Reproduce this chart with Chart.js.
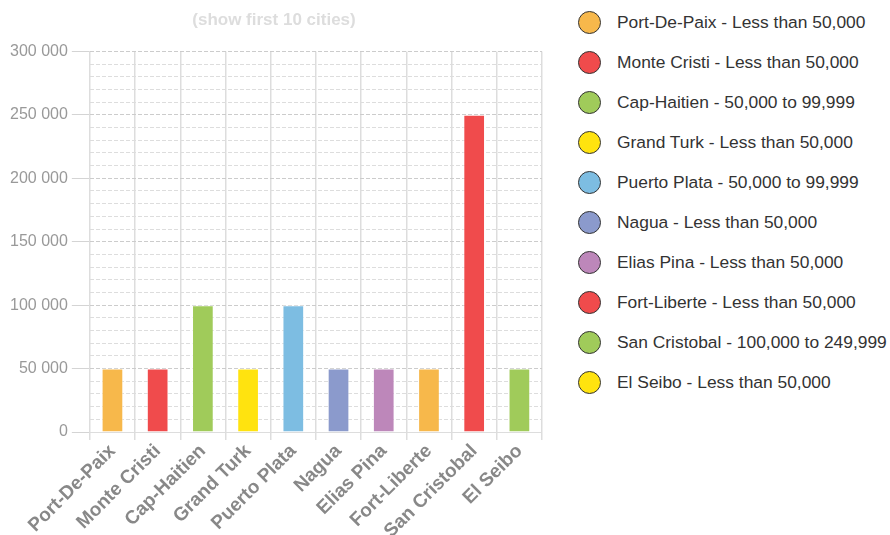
<!DOCTYPE html>
<html>
<head>
<meta charset="utf-8">
<script src="https://cdn.jsdelivr.net/npm/chart.js@4"></script>
<style>
    body { margin: 0; background: #fff; font-family: "Liberation Sans", Arial, sans-serif; }
    #wrap { position: relative; width: 890px; height: 535px; }
    #box { position: absolute; left: 0; top: 0; width: 548px; height: 535px; }
    #legend { position: absolute; left: 578px; top: 11px; margin: 0; padding: 0; list-style: none; }
    #legend li { height: 40px; display: flex; align-items: flex-start; font-size: 17.4px; color: #333; white-space: nowrap; }
    #legend span.dot { display: inline-block; width: 23px; height: 23px; border-radius: 50%; border: 1px solid #333; box-sizing: border-box; margin-right: 16px; }
    #legend span.txt { line-height: 23px; }
</style>
</head>
<body>
<div id="wrap">
    <div id="box"><canvas id="cities"></canvas></div>
    <ul id="legend"></ul>
</div>
<script>
var cities = ["Port-De-Paix", "Monte Cristi", "Cap-Haitien", "Grand Turk", "Puerto Plata",
    "Nagua", "Elias Pina", "Fort-Liberte", "San Cristobal", "El Seibo"];
var ranges = ["Less than 50,000", "Less than 50,000", "50,000 to 99,999", "Less than 50,000",
    "50,000 to 99,999", "Less than 50,000", "Less than 50,000", "Less than 50,000",
    "100,000 to 249,999", "Less than 50,000"];
var population = [49999, 49999, 99999, 49999, 99999, 49999, 49999, 49999, 249999, 49999];
var barColors = ["#F7B84B", "#F04B4C", "#A0CB5A", "#FFE30F", "#7DBDE2",
    "#8B9ACC", "#BD87BA", "#F7B84B", "#F04B4C", "#A0CB5A"];
var legendColors = ["#F7B84B", "#F04B4C", "#A0CB5A", "#FFE30F", "#7DBDE2",
    "#8B9ACC", "#BD87BA", "#F04B4C", "#A0CB5A", "#FFE30F"];

document.addEventListener("DOMContentLoaded", function () {
    var legend = document.getElementById("legend");
    for (var i = 0; i < cities.length; i++) {
        var li = document.createElement("li");
        li.innerHTML = '<span class="dot" style="background:' + legendColors[i] + '"></span>' +
            '<span class="txt">' + cities[i] + " - " + ranges[i] + "</span>";
        legend.appendChild(li);
    }

    var ctx = document.getElementById("cities").getContext("2d");
    var chart = new Chart(ctx, {
        type: "bar",
        data: {
            labels: cities,
            datasets: [{
                label: "population",
                backgroundColor: barColors,
                borderColor: "rgba(255,255,255,0.6)",
                borderWidth: 1,
                categoryPercentage: 1,
                barPercentage: 0.48,
                data: population
            }]
        },
        options: {
            responsive: true,
            maintainAspectRatio: false,
            animation: false,
            layout: { padding: { top: 10, right: 6, left: 6 } },
            plugins: {
                legend: { display: false },
                tooltip: { enabled: false },
                title: {
                    display: true,
                    text: "(show first 10 cities)",
                    color: "#dddddd",
                    font: { family: "Liberation Sans", size: 17, weight: "bold" },
                    padding: { top: 0, bottom: 21 }
                }
            },
            scales: {
                x: {
                    grid: { color: "#dddddd", lineWidth: 1.5, tickLength: 8, offset: true },
                    border: { color: "#dddddd" },
                    // labels run off the bottom edge, as in the original
                    afterFit: function (s) { s.height = 103; },
                    ticks: {
                        color: "#888888",
                        maxRotation: 45,
                        minRotation: 45,
                        padding: 0,
                        font: { family: "Liberation Sans", size: 19, weight: "bold" }
                    }
                },
                y: {
                    min: 0,
                    max: 300000,
                    border: { color: "#dddddd", dash: [4, 2] },
                    grid: {
                        color: function (c) {
                            return c.tick && c.tick.value % 50000 === 0 ? "#cccccc" : "#dddddd";
                        },
                        tickColor: function (c) {
                            return c.tick && c.tick.value % 50000 === 0 ? "#d4d4d4" : "rgba(0,0,0,0)";
                        },
                        tickBorderDash: [],
                        tickLength: 18
                    },
                    ticks: {
                        stepSize: 10000,
                        autoSkip: false,
                        color: "#999999",
                        padding: 4,
                        font: { family: "Liberation Sans", size: 16 },
                        callback: function (v) {
                            if (v % 50000 !== 0) return "";
                            return String(v).replace(/\B(?=(\d{3})+(?!\d))/g, " ");
                        }
                    }
                }
            }
        }
    });
});
</script>
</body>
</html>
